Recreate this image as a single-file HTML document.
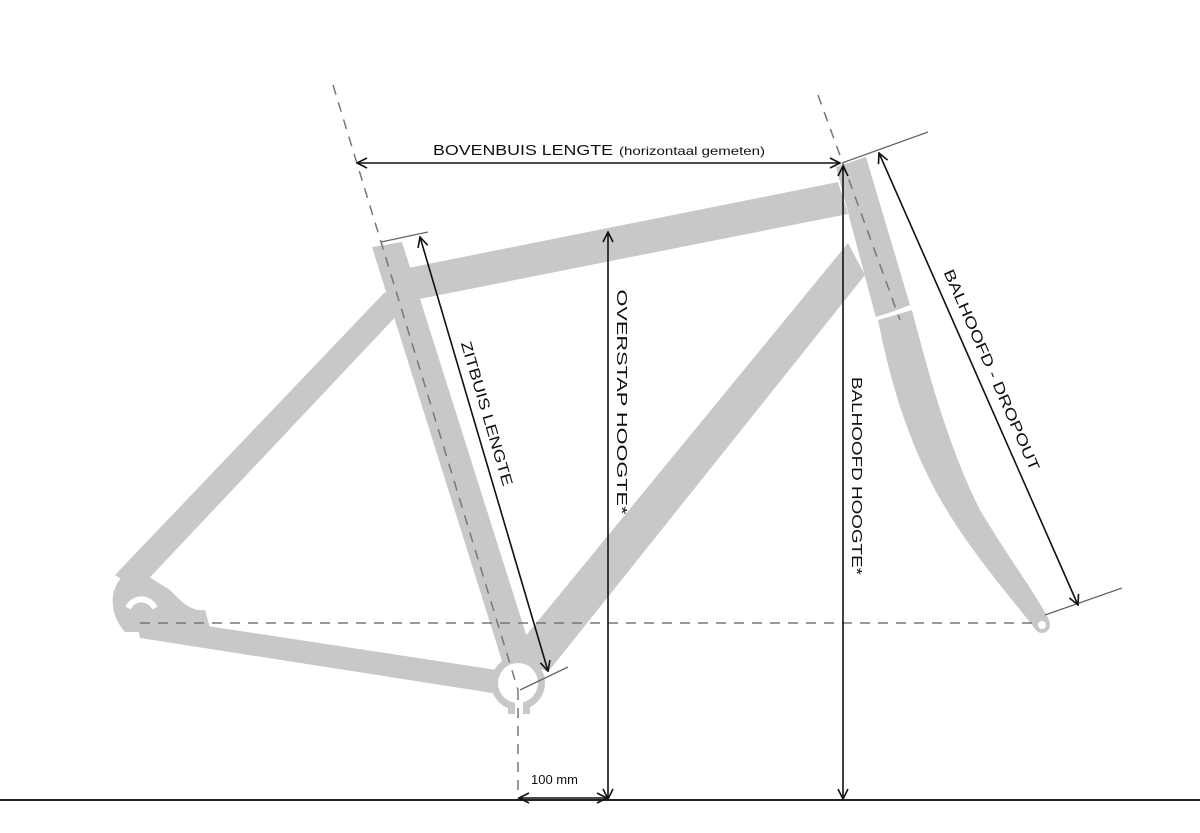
<!DOCTYPE html>
<html><head><meta charset="utf-8"><style>
html,body{margin:0;padding:0;background:#fff;}
svg{display:block;}
text{font-family:"Liberation Sans",sans-serif;fill:#111;}
</style></head><body>
<svg width="1200" height="833" viewBox="0 0 1200 833" xmlns="http://www.w3.org/2000/svg">
<defs>
<marker id="a" viewBox="0 0 12 12" refX="11" refY="6" markerWidth="12" markerHeight="12" markerUnits="userSpaceOnUse" orient="auto-start-reverse">
<path d="M1,1 L11,6 L1,11" fill="none" stroke="#111" stroke-width="1.6"/>
</marker>
</defs>
<g fill="#c8c8ca">
<polygon points="385,292 402,310 138,590 115,575"/>
<polygon points="135,615 140,638 505,695 510,672"/>
<path d="M135,568 C110,578 105,610 125,632 L145,632 L210,628 L205,610 C190,612 180,600 170,590 Z"/>
<polygon points="372,247 402,242 538,672 508,680"/>
<polygon points="398,270 838,182 848,214 404,302"/>
<polygon points="848,243 865,275 548,672 510,655"/>
<polygon points="836,167 866,157 910,305 876,318"/>
<path d="M878,320 L912,310 C930,380 950,450 980,510 C1010,560 1040,600 1050,622 L1036,630 C1005,590 960,540 930,480 C905,430 890,380 878,320 Z"/>
<circle cx="1042" cy="625" r="8"/>
<circle cx="518" cy="683" r="27"/>
<rect x="508" y="700" width="22" height="14"/>
</g>
<circle cx="1042" cy="625" r="4" fill="#fff"/>
<circle cx="518" cy="683" r="20" fill="#fff"/>
<rect x="515" y="700" width="8" height="16" fill="#fff"/>
<path d="M128,608 C135,595 150,598 155,608" fill="none" stroke="#fff" stroke-width="6"/>
<line x1="876" y1="318" x2="912" y2="307" stroke="#fff" stroke-width="2"/>
<g stroke="#777" stroke-width="1.5" stroke-dasharray="10,8" fill="none">
<line x1="333" y1="85" x2="518" y2="690"/>
<line x1="518" y1="690" x2="518" y2="800"/>
<line x1="818" y1="95" x2="900" y2="320"/>
<line x1="140" y1="623" x2="1035" y2="623"/>
</g>
<line x1="0" y1="800" x2="1200" y2="800" stroke="#222" stroke-width="2"/>
<g stroke="#666" stroke-width="1.3">
<line x1="381" y1="242" x2="428" y2="232"/>
<line x1="520" y1="690" x2="568" y2="667"/>
<line x1="842" y1="163" x2="928" y2="132"/>
<line x1="1045" y1="615" x2="1122" y2="588"/>
</g>
<g stroke="#111" stroke-width="1.6" fill="none" marker-start="url(#a)" marker-end="url(#a)">
<line x1="357" y1="163" x2="840" y2="163"/>
<line x1="420" y1="237" x2="548" y2="671"/>
<line x1="608" y1="232" x2="608" y2="799"/>
<line x1="843" y1="166" x2="843" y2="799"/>
<line x1="879" y1="153" x2="1078" y2="605"/>
<line x1="519" y1="798" x2="607" y2="798"/>
</g>
<text x="433" y="155" font-size="15" textLength="180" lengthAdjust="spacingAndGlyphs">BOVENBUIS LENGTE</text>
<text x="619" y="155" font-size="12" textLength="146" lengthAdjust="spacingAndGlyphs">(horizontaal gemeten)</text>
<text x="531" y="784" font-size="13">100 mm</text>
<text font-size="15" text-anchor="middle" textLength="150" lengthAdjust="spacingAndGlyphs" transform="translate(482,415) rotate(73.5)">ZITBUIS LENGTE</text>
<text font-size="15" text-anchor="middle" textLength="225" lengthAdjust="spacingAndGlyphs" transform="translate(617,402) rotate(90)">OVERSTAP HOOGTE*</text>
<text font-size="15" text-anchor="middle" textLength="198" lengthAdjust="spacingAndGlyphs" transform="translate(852,476) rotate(90)">BALHOOFD HOOGTE*</text>
<text font-size="15" text-anchor="middle" textLength="218" lengthAdjust="spacingAndGlyphs" transform="translate(987,372) rotate(66.4)">BALHOOFD - DROPOUT</text>
</svg>
</body></html>
